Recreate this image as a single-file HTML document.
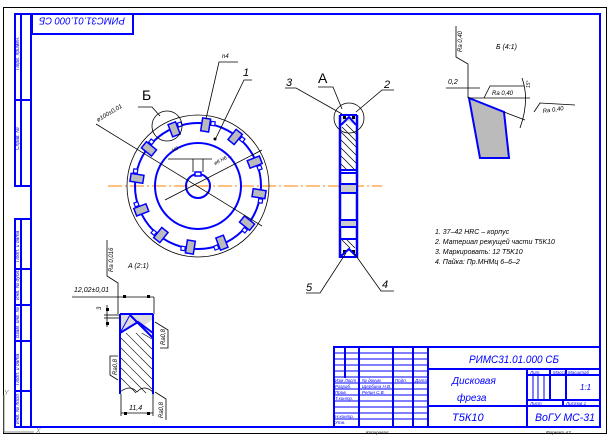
<!DOCTYPE html>
<html><head><meta charset="utf-8"><style>
html,body{margin:0;padding:0;background:#fff;}
svg{display:block;font-family:"Liberation Sans","DejaVu Sans",sans-serif;font-style:italic;}
</style></head><body>
<svg width="611" height="440" viewBox="0 0 611 440" xmlns="http://www.w3.org/2000/svg">
<rect x="3.5" y="7.5" width="603" height="426" fill="none" stroke="#000" stroke-width="1"/>
<rect x="31" y="14" width="569" height="413" fill="none" stroke="#0000ff" stroke-width="2"/>
<g stroke="#0000ff" stroke-width="2" fill="none">
<rect x="15" y="14" width="16" height="172"/>
<line x1="21" y1="14" x2="21" y2="186"/>
<line x1="15" y1="100" x2="31" y2="100"/>
<rect x="15" y="219" width="16" height="208"/>
<line x1="21" y1="219" x2="21" y2="427"/>
<line x1="15" y1="269" x2="31" y2="269"/>
<line x1="15" y1="305" x2="31" y2="305"/>
<line x1="15" y1="341" x2="31" y2="341"/>
<line x1="15" y1="391" x2="31" y2="391"/>
<rect x="32" y="14" width="101" height="20"/>
</g>
<g font-size="5" fill="#0000ff">
<text transform="translate(19,70) rotate(-90)">Перв. примен.</text>
<text transform="translate(19,150) rotate(-90)">Справ. №</text>
<text transform="translate(19,262) rotate(-90)">Подп. и дата</text>
<text transform="translate(19,300) rotate(-90)">Инв. № дубл.</text>
<text transform="translate(19,338) rotate(-90)">Взам. инв. №</text>
<text transform="translate(19,385) rotate(-90)">Подп. и дата</text>
<text transform="translate(19,424) rotate(-90)">Инв. № подл.</text>
</g>
<text transform="translate(125,20) rotate(180)" font-size="10" textLength="86" lengthAdjust="spacingAndGlyphs" dominant-baseline="middle" fill="#0000ff">РИМС31.01.000 СБ</text>
<g stroke="#888" fill="none" stroke-width="1"><polyline points="4,395 4,432 34,432"/></g>
<text x="4" y="395" font-size="7" fill="#888">Y</text><text x="36" y="433" font-size="7" fill="#888">X</text>

<line x1="108" y1="186" x2="382" y2="186" stroke="#ff8000" stroke-width="1" stroke-dasharray="14,3,2,3"/>
<circle cx="198" cy="186" r="71" fill="none" stroke="#000" stroke-width="0.8"/>
<circle cx="198" cy="186" r="63" fill="none" stroke="#0000ff" stroke-width="2"/>
<circle cx="198" cy="186" r="43" fill="none" stroke="#0000ff" stroke-width="2"/>
<circle cx="198" cy="186" r="12" fill="none" stroke="#0000ff" stroke-width="2"/>
<rect x="195" y="172" width="6" height="4" fill="#fff" stroke="#0000ff" stroke-width="1.5"/>
<g>
<g transform="rotate(9 198 186)"><rect x="192" y="118" width="8" height="13" fill="#bbb" stroke="#0000ff" stroke-width="1.5"/><rect x="201" y="120" width="4" height="4" fill="#fff" stroke="#0000ff" stroke-width="1.2"/></g>
<g transform="rotate(39 198 186)"><rect x="192" y="118" width="8" height="13" fill="#bbb" stroke="#0000ff" stroke-width="1.5"/><rect x="201" y="120" width="4" height="4" fill="#fff" stroke="#0000ff" stroke-width="1.2"/></g>
<g transform="rotate(69 198 186)"><rect x="192" y="118" width="8" height="13" fill="#bbb" stroke="#0000ff" stroke-width="1.5"/><rect x="201" y="120" width="4" height="4" fill="#fff" stroke="#0000ff" stroke-width="1.2"/></g>
<g transform="rotate(99 198 186)"><rect x="192" y="118" width="8" height="13" fill="#bbb" stroke="#0000ff" stroke-width="1.5"/><rect x="201" y="120" width="4" height="4" fill="#fff" stroke="#0000ff" stroke-width="1.2"/></g>
<g transform="rotate(129 198 186)"><rect x="192" y="118" width="8" height="13" fill="#bbb" stroke="#0000ff" stroke-width="1.5"/><rect x="201" y="120" width="4" height="4" fill="#fff" stroke="#0000ff" stroke-width="1.2"/></g>
<g transform="rotate(159 198 186)"><rect x="192" y="118" width="8" height="13" fill="#bbb" stroke="#0000ff" stroke-width="1.5"/><rect x="201" y="120" width="4" height="4" fill="#fff" stroke="#0000ff" stroke-width="1.2"/></g>
<g transform="rotate(189 198 186)"><rect x="192" y="118" width="8" height="13" fill="#bbb" stroke="#0000ff" stroke-width="1.5"/><rect x="201" y="120" width="4" height="4" fill="#fff" stroke="#0000ff" stroke-width="1.2"/></g>
<g transform="rotate(219 198 186)"><rect x="192" y="118" width="8" height="13" fill="#bbb" stroke="#0000ff" stroke-width="1.5"/><rect x="201" y="120" width="4" height="4" fill="#fff" stroke="#0000ff" stroke-width="1.2"/></g>
<g transform="rotate(249 198 186)"><rect x="192" y="118" width="8" height="13" fill="#bbb" stroke="#0000ff" stroke-width="1.5"/><rect x="201" y="120" width="4" height="4" fill="#fff" stroke="#0000ff" stroke-width="1.2"/></g>
<g transform="rotate(279 198 186)"><rect x="192" y="118" width="8" height="13" fill="#bbb" stroke="#0000ff" stroke-width="1.5"/><rect x="201" y="120" width="4" height="4" fill="#fff" stroke="#0000ff" stroke-width="1.2"/></g>
<g transform="rotate(309 198 186)"><rect x="192" y="118" width="8" height="13" fill="#bbb" stroke="#0000ff" stroke-width="1.5"/><rect x="201" y="120" width="4" height="4" fill="#fff" stroke="#0000ff" stroke-width="1.2"/></g>
<g transform="rotate(339 198 186)"><rect x="192" y="118" width="8" height="13" fill="#bbb" stroke="#0000ff" stroke-width="1.5"/><rect x="201" y="120" width="4" height="4" fill="#fff" stroke="#0000ff" stroke-width="1.2"/></g>
</g>
<g stroke="#000" stroke-width="0.8" fill="none">
<line x1="96" y1="124" x2="262" y2="226"/>
<line x1="165" y1="200" x2="262" y2="150"/>
<line x1="168" y1="159" x2="212" y2="159"/>
<line x1="193" y1="159" x2="193" y2="172"/><line x1="203" y1="159" x2="203" y2="172"/>
<circle cx="167" cy="126" r="15"/>
<polyline points="138,107 152,107 160,116"/>
<polyline points="206,119 219,62 238,62"/>
<polyline points="215,140 244,80 252,80"/>
</g>
<circle cx="215" cy="139" r="1.5" fill="#000"/>
<text x="142" y="100" font-size="14" fill="#000" font-style="normal">Б</text>
<text x="222" y="58" font-size="6" fill="#000">n4</text>
<text x="243" y="76" font-size="11" fill="#000">1</text>
<text transform="translate(98,122) rotate(-31)" font-size="6" fill="#000">ø100±0,01</text>
<text transform="translate(173,152) rotate(-25)" font-size="5" fill="#000">Н9</text>
<text transform="translate(215,165) rotate(-27)" font-size="5" fill="#000">ø8 Н6 ...</text>

<line x1="340" y1="115" x2="340" y2="258" stroke="#0000ff" stroke-width="2.5"/>
<line x1="357" y1="115" x2="357" y2="258" stroke="#0000ff" stroke-width="2.5"/>
<line x1="340" y1="115" x2="357" y2="115" stroke="#0000ff" stroke-width="2"/>
<line x1="340" y1="257" x2="357" y2="257" stroke="#0000ff" stroke-width="2"/>
<g stroke="#000" stroke-width="0.7">
<line x1="341" y1="132" x2="356" y2="147"/><line x1="341" y1="140" x2="356" y2="155"/><line x1="341" y1="148" x2="356" y2="163"/><line x1="341" y1="156" x2="355" y2="170"/><line x1="341" y1="164" x2="347" y2="170"/><line x1="342" y1="127" x2="356" y2="141"/><line x1="346" y1="124" x2="356" y2="134"/>
<line x1="342" y1="240" x2="350" y2="248"/><line x1="347" y1="240" x2="355" y2="248"/>
</g>
<polygon points="341,117 356,117 353,124 348,121 344,124" fill="#ddd"/>
<polyline points="341,125 349,117 356,125" fill="none" stroke="#0000ff" stroke-width="2"/>
<rect x="343" y="116" width="3" height="3" fill="#000"/><rect x="352" y="116" width="3" height="3" fill="#000"/>
<rect x="343" y="250" width="3" height="3" fill="#000"/><rect x="352" y="250" width="3" height="3" fill="#000"/>
<polyline points="341,256 349,249 356,256" fill="none" stroke="#0000ff" stroke-width="2"/>
<g stroke="#0000ff" stroke-width="2">
<line x1="340" y1="170" x2="357" y2="170"/><line x1="340" y1="173" x2="357" y2="173"/>
<line x1="340" y1="184" x2="357" y2="184"/><line x1="340" y1="193" x2="357" y2="193"/>
<line x1="340" y1="220" x2="357" y2="220"/><line x1="340" y1="227" x2="357" y2="227"/>
<line x1="340" y1="239" x2="357" y2="239"/>
</g>
<rect x="341" y="185" width="15" height="7" fill="#ccc"/>
<rect x="341" y="221" width="15" height="5" fill="#ccc"/>
<circle cx="349" cy="118" r="15" fill="none" stroke="#000" stroke-width="0.8"/>
<g stroke="#000" stroke-width="0.8" fill="none">
<polyline points="318,87 333,87 342,109"/>
<polyline points="285,88 296,88 342,114"/>
<polyline points="394,90 382,90 356,112"/>
<polyline points="306,293 320,293 346,253"/>
<polyline points="394,291 381,291 354,253"/>
</g>
<text x="318" y="83" font-size="14" fill="#000" font-style="normal">A</text>
<text x="286" y="86" font-size="11" fill="#000">3</text>
<text x="384" y="88" font-size="11" fill="#000">2</text>
<text x="306" y="291" font-size="11" fill="#000">5</text>
<text x="382" y="288" font-size="11" fill="#000">4</text>

<text x="496" y="49" font-size="7" fill="#000">Б (4:1)</text>
<polygon points="469,98 504,112 509,158 480,158" fill="#bbb" stroke="#0000ff" stroke-width="2"/>
<g stroke="#000" stroke-width="0.8" fill="none">
<polyline points="456,26 456,57 468,64 468,98"/>
<line x1="446" y1="88" x2="480" y2="88"/>
<line x1="468" y1="98" x2="530" y2="98"/>
<polyline points="484,98 490,86 524,86"/>
<line x1="504" y1="112" x2="525" y2="120"/>
<path d="M522,78 Q530,100 520,128"/>
<polyline points="534,112 540,103 575,105"/>
</g>
<text transform="translate(462,52) rotate(-90)" font-size="6" fill="#000">Ra 0,40</text>
<text x="448" y="84" font-size="7" fill="#000">0,2</text>
<text x="492" y="95" font-size="6" fill="#000">Ra 0,40</text>
<text transform="translate(543,113) rotate(-8)" font-size="6" fill="#000">Ra 0,40</text>
<text transform="translate(530,88) rotate(-90)" font-size="5" fill="#000">15°</text>

<g font-size="7" fill="#000">
<text x="435" y="234">1. 37–42 HRC – корпус</text>
<text x="435" y="244">2. Материал режущей части T5K10</text>
<text x="435" y="254">3. Маркировать: 12 T5K10</text>
<text x="435" y="264">4. Пайка: Пр.МНМц 6–6–2</text>
</g>

<text x="128" y="268" font-size="7" fill="#000">A (2:1)</text>
<g stroke="#000" stroke-width="0.6">
<line x1="121" y1="318" x2="152" y2="349"/><line x1="121" y1="328" x2="152" y2="359"/><line x1="121" y1="338" x2="152" y2="369"/><line x1="121" y1="348" x2="152" y2="379"/><line x1="121" y1="358" x2="152" y2="389"/><line x1="121" y1="368" x2="146" y2="393"/><line x1="121" y1="378" x2="136" y2="393"/><line x1="128" y1="325" x2="152" y2="339"/>
</g>
<polygon points="120,315 153,315 153,319 138,330 120,333" fill="#ddd"/>
<polyline points="120,333 138,322 153,333" fill="#fff" stroke="#0000ff" stroke-width="2"/>
<line x1="120" y1="314" x2="120" y2="394" stroke="#0000ff" stroke-width="2"/>
<line x1="153" y1="314" x2="153" y2="394" stroke="#0000ff" stroke-width="2"/>
<line x1="120" y1="314" x2="153" y2="314" stroke="#0000ff" stroke-width="2"/>
<line x1="130" y1="315" x2="153" y2="338" stroke="#0000ff" stroke-width="2"/>
<line x1="130" y1="315" x2="120" y2="333" stroke="#0000ff" stroke-width="1"/>
<path d="M120,392 Q130,384 137,392 Q144,384 153,392" fill="none" stroke="#000" stroke-width="0.7"/>
<g stroke="#000" stroke-width="0.8" fill="none">
<polyline points="107,240 107,276 118,283 118,314"/>
<line x1="72" y1="297" x2="154" y2="297"/>
<line x1="154" y1="297" x2="154" y2="314"/>
<line x1="104" y1="315" x2="120" y2="315"/><line x1="104" y1="318" x2="120" y2="318"/>
<line x1="107" y1="305" x2="107" y2="327"/>
<line x1="121" y1="394" x2="121" y2="416"/><line x1="153" y1="394" x2="153" y2="416"/>
<line x1="121" y1="413" x2="153" y2="413"/>
<polyline points="155,322 168,330 168,348 160,348"/>
<polyline points="118,356 110,356 110,375 118,380"/>
<polyline points="155,392 166,399 166,420"/>
</g>
<g fill="#000"><rect x="123" y="295" width="3" height="3"/><rect x="147" y="295" width="3" height="3"/><rect x="106" y="308" width="3" height="3"/><rect x="106" y="322" width="3" height="3"/><rect x="124" y="412" width="3" height="3"/><rect x="147" y="412" width="3" height="3"/></g>
<text x="74" y="292" font-size="7" fill="#000">12,02±0,01</text>
<text transform="translate(101,310) rotate(-90)" font-size="6" fill="#000">3</text>
<text x="129" y="410" font-size="7" fill="#000">11,4</text>
<text transform="translate(113,272) rotate(-90)" font-size="6" fill="#000">Ra 0,016</text>
<text transform="translate(165,345) rotate(-90)" font-size="6" fill="#000">Ra0,8</text>
<text transform="translate(117,375) rotate(-90)" font-size="6" fill="#000">Ra0,8</text>
<text transform="translate(163,418) rotate(-90)" font-size="6" fill="#000">Ra0,8</text>

<g stroke="#0000ff" stroke-width="2" fill="none">
<rect x="334" y="347" width="266" height="80"/>
<line x1="345" y1="347" x2="345" y2="378"/>
<line x1="359" y1="347" x2="359" y2="427"/>
<line x1="393" y1="347" x2="393" y2="427"/>
<line x1="413" y1="347" x2="413" y2="427"/>
<line x1="428" y1="347" x2="428" y2="427"/>
<line x1="428" y1="369" x2="600" y2="369"/>
<line x1="428" y1="406" x2="600" y2="406"/>
<line x1="527" y1="369" x2="527" y2="427"/>
<line x1="527" y1="375" x2="600" y2="375"/>
<line x1="527" y1="400" x2="600" y2="400"/>
<line x1="550" y1="369" x2="550" y2="400"/>
<line x1="566" y1="369" x2="566" y2="400"/>
<line x1="563" y1="400" x2="563" y2="406"/>
</g>
<g stroke="#0000ff" stroke-width="1">
<line x1="334" y1="353" x2="428" y2="353"/><line x1="334" y1="359" x2="428" y2="359"/><line x1="334" y1="365" x2="428" y2="365"/><line x1="334" y1="371" x2="428" y2="371"/>
<line x1="334" y1="377" x2="428" y2="377"/><line x1="334" y1="383" x2="428" y2="383"/><line x1="334" y1="389" x2="428" y2="389"/><line x1="334" y1="395" x2="428" y2="395"/><line x1="334" y1="401" x2="428" y2="401"/><line x1="334" y1="407" x2="428" y2="407"/><line x1="334" y1="413" x2="428" y2="413"/><line x1="334" y1="419" x2="428" y2="419"/>
<line x1="533" y1="375" x2="533" y2="400"/><line x1="538" y1="375" x2="538" y2="400"/><line x1="544" y1="375" x2="544" y2="400"/>
</g>
<g font-size="4.5" fill="#0000ff">
<text x="335" y="382">Изм Лист</text><text x="362" y="382">№ докум.</text><text x="395" y="382">Подп.</text><text x="415" y="382">Дата</text>
<text x="335" y="388">Разраб.</text><text x="362" y="388">Щербина Н.В.</text>
<text x="335" y="394">Пров.</text><text x="362" y="394">Репин С.В.</text>
<text x="335" y="400">Т.контр.</text>
<text x="335" y="418">Н.контр.</text><text x="335" y="424">Утв.</text>
<text x="530" y="374">Лит.</text><text x="553" y="374">Масса</text><text x="568" y="374">Масштаб</text>
<text x="530" y="405">Лист</text><text x="566" y="405">Листов 1</text>
</g>
<g fill="#0000ff">
<text x="469" y="363" font-size="11" textLength="90" lengthAdjust="spacingAndGlyphs">РИМС31.01.000 СБ</text>
<text x="452" y="384" font-size="10">Дисковая</text>
<text x="457" y="401" font-size="10">фреза</text>
<text x="452" y="421" font-size="11">Т5К10</text>
<text x="535" y="421" font-size="11" textLength="60" lengthAdjust="spacingAndGlyphs">ВоГУ МС-31</text>
<text x="580" y="390" font-size="8">1:1</text>
</g>
<g font-size="4.5" fill="#000"><text x="366" y="434">Копировал</text><text x="546" y="434">Формат   А3</text></g>
</svg>
</body></html>
